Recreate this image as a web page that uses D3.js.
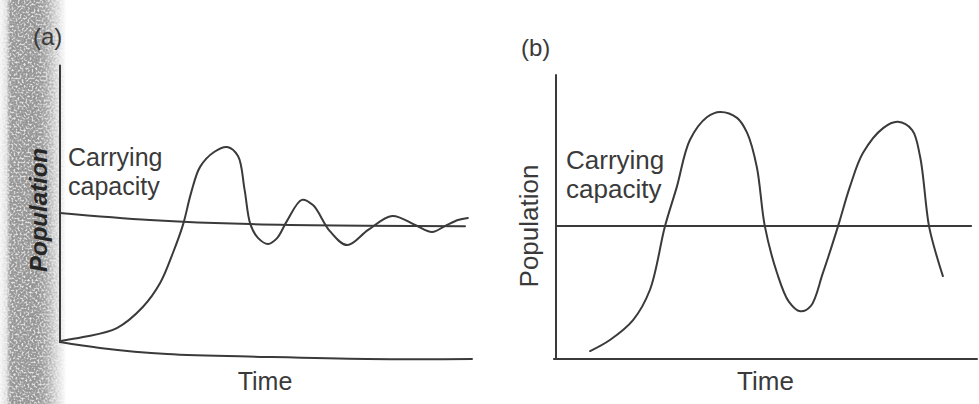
<!DOCTYPE html>
<meta charset="utf-8">
<style>
html, body {
  margin: 0;
  background: #fff;
}

svg {
  display: block;
}

.curve, .axis-line, .capacity {
  fill: none;
  stroke: #3a3a3a;
  stroke-width: 2px;
  stroke-linejoin: round;
  stroke-linecap: round;
}

text {
  font-family: "Liberation Sans", Arial, sans-serif;
  fill: #3a3a3a;
}
</style>

<svg></svg>

<script src="https://d3js.org/d3.v7.min.js"></script>
<script>

var width = 979;
var height = 404;

// Panel (a): damped oscillation about the carrying capacity
// time 0..100, population 0..100
var popA = [
  [0.2, 6.2], [5.6, 7.5], [13.8, 10.6], [20.1, 17.8], [24.3, 26.0],
  [27.4, 36.3], [29.9, 46.2], [31.8, 56.8], [34.0, 65.8], [37.4, 70.9],
  [40.6, 72.6], [43.2, 69.5], [44.8, 58.0], [46.2, 46.2], [48.1, 41.4],
  [50.5, 39.4], [52.7, 41.4], [55.1, 47.3], [58.7, 54.5], [61.4, 52.7],
  [65.5, 43.8], [69.7, 39.0], [74.8, 44.2], [80.6, 49.0], [86.2, 45.9],
  [90.3, 43.5], [93.4, 45.5], [96.6, 47.6], [99.0, 48.3]
];
var capacityA = [[0, 50], [21.8, 47.6], [46.1, 46.2], [98.3, 45.5]];
var baseA = [[0, 5.8], [9.7, 3.8], [26, 1.7], [50, 0.7], [74.5, 0], [100, 0]];
var yAxisA = [[0, 5.8], [0, 100.5]];

// Panel (b): sustained oscillation
var popB = [
  [8.1, 2.8], [12.8, 6.7], [18.3, 13.7], [22.3, 24.3], [25.9, 46.8],
  [28.7, 60.6], [31.8, 77.1], [35.9, 85.2], [39.0, 87.0], [43.0, 84.9],
  [45.4, 79.6], [47.7, 67.6], [49.6, 46.8], [52.5, 30.3], [55.3, 20.2],
  [58.0, 16.8], [60.5, 18.6], [63.4, 30.3], [67.0, 46.8], [69.8, 60.6],
  [72.9, 72.5], [77.7, 81.3], [81.2, 83.5], [84.6, 80.6], [86.5, 71.1],
  [88.6, 46.8], [90.5, 35.9], [91.9, 29.2]
];
var capacityB = [[0, 46.8], [98.6, 46.8]];
var baseB = [[-0.5, 0], [100, 0]];
var yAxisB = [[0, 0], [0, 100]];

var labels = {
  panel: ['(a)', '(b)'],
  capacity: ['Carrying', 'capacity'],
  x: 'Time',
  y: 'Population'
};

var svg = d3.select('svg')
  .attr('width', width)
  .attr('height', height);

// scanned page edge (book gutter) on the left of panel (a)
var defs = svg.append('defs');
var grad = defs.append('linearGradient').attr('id', 'edge');
[[0, 0.05], [10, 0.2], [16, 0.8], [55, 0.85], [70, 0.6], [85, 0.25], [100, 0]]
  .forEach(function (s) {
    grad.append('stop')
      .attr('offset', s[0] + '%')
      .attr('stop-color', '#8a8a8a')
      .attr('stop-opacity', s[1]);
  });

var noise = defs.append('filter').attr('id', 'speckle')
  .attr('x', 0).attr('y', 0).attr('width', 1).attr('height', 1);
noise.append('feTurbulence')
  .attr('type', 'fractalNoise').attr('baseFrequency', 0.5)
  .attr('numOctaves', 2).attr('seed', 7).attr('result', 'n');
noise.append('feColorMatrix').attr('in', 'n').attr('type', 'matrix')
  .attr('values', '0 0 0 0 0.28  0 0 0 0 0.28  0 0 0 0 0.28  3.4 0 0 0 -1.4')
  .attr('result', 'dark');
noise.append('feColorMatrix').attr('in', 'n').attr('type', 'matrix')
  .attr('values', '0 0 0 0 0.9  0 0 0 0 0.9  0 0 0 0 0.9  -3.4 0 0 0 1.8')
  .attr('result', 'light');
noise.append('feComposite').attr('in', 'dark').attr('in2', 'SourceGraphic')
  .attr('operator', 'in').attr('result', 'darkClip');
noise.append('feComposite').attr('in', 'light').attr('in2', 'SourceGraphic')
  .attr('operator', 'in').attr('result', 'lightClip');
noise.append('feMerge').call(function (m) {
  m.append('feMergeNode').attr('in', 'SourceGraphic');
  m.append('feMergeNode').attr('in', 'lightClip');
  m.append('feMergeNode').attr('in', 'darkClip');
});

svg.append('rect')
  .attr('x', 0).attr('y', 0)
  .attr('width', 66).attr('height', height)
  .attr('fill', 'url(#edge)')
  .attr('filter', 'url(#speckle)');

function drawPanel(opt) {
  var x = d3.scaleLinear().domain([0, 100]).range(opt.xRange);
  var y = d3.scaleLinear().domain([0, 100]).range(opt.yRange);

  var line = d3.line()
    .x(function (d) { return x(d[0]); })
    .y(function (d) { return y(d[1]); });

  var smooth = d3.line()
    .curve(d3.curveCatmullRom.alpha(0.5))
    .x(function (d) { return x(d[0]); })
    .y(function (d) { return y(d[1]); });

  var g = svg.append('g');

  g.append('path').attr('class', 'axis-line').attr('d', line(opt.yAxis));
  g.append('path').attr('class', 'axis-line').attr('d', smooth(opt.base));
  g.append('path').attr('class', 'capacity').attr('d', smooth(opt.capacity));
  g.append('path').attr('class', 'curve').attr('d', smooth(opt.pop));

  g.append('text')
    .attr('x', opt.panelPos[0]).attr('y', opt.panelPos[1])
    .style('font-size', opt.panelSize + 'px')
    .text(opt.panelLabel);

  g.selectAll('.cap-label').data(labels.capacity)
    .enter().append('text')
    .attr('class', 'cap-label')
    .attr('x', opt.capPos[0])
    .attr('y', function (d, i) { return opt.capPos[1] + i * 29; })
    .style('font-size', opt.textSize + 'px')
    .text(function (d) { return d; });

  g.append('text')
    .attr('x', x(50) + opt.timeShift).attr('y', 390)
    .attr('text-anchor', 'middle')
    .style('font-size', opt.textSize + 'px')
    .text(labels.x);

  g.append('text')
    .attr('transform', 'translate(' + opt.popPos[0] + ',' + opt.popPos[1] + ') rotate(-90)')
    .attr('text-anchor', 'middle')
    .style('font-size', opt.popSize + 'px')
    .style('font-weight', opt.popBold ? 'bold' : 'normal')
    .style('font-style', opt.popBold ? 'italic' : 'normal')
    .style('fill', opt.popBold ? '#262626' : '#3a3a3a')
    .text(labels.y);
}

drawPanel({
  xRange: [60, 472], yRange: [359, 67],
  pop: popA, capacity: capacityA, base: baseA, yAxis: yAxisA,
  panelLabel: labels.panel[0], panelPos: [33, 45], panelSize: 24,
  capPos: [68, 166], textSize: 25, timeShift: -1,
  popPos: [47, 210], popSize: 24, popBold: true
});

drawPanel({
  xRange: [556, 977], yRange: [359, 75],
  pop: popB, capacity: capacityB, base: baseB, yAxis: yAxisB,
  panelLabel: labels.panel[1], panelPos: [521, 56], panelSize: 24,
  capPos: [566, 169], textSize: 26, timeShift: -1,
  popPos: [538, 226], popSize: 26, popBold: false
});

</script>
